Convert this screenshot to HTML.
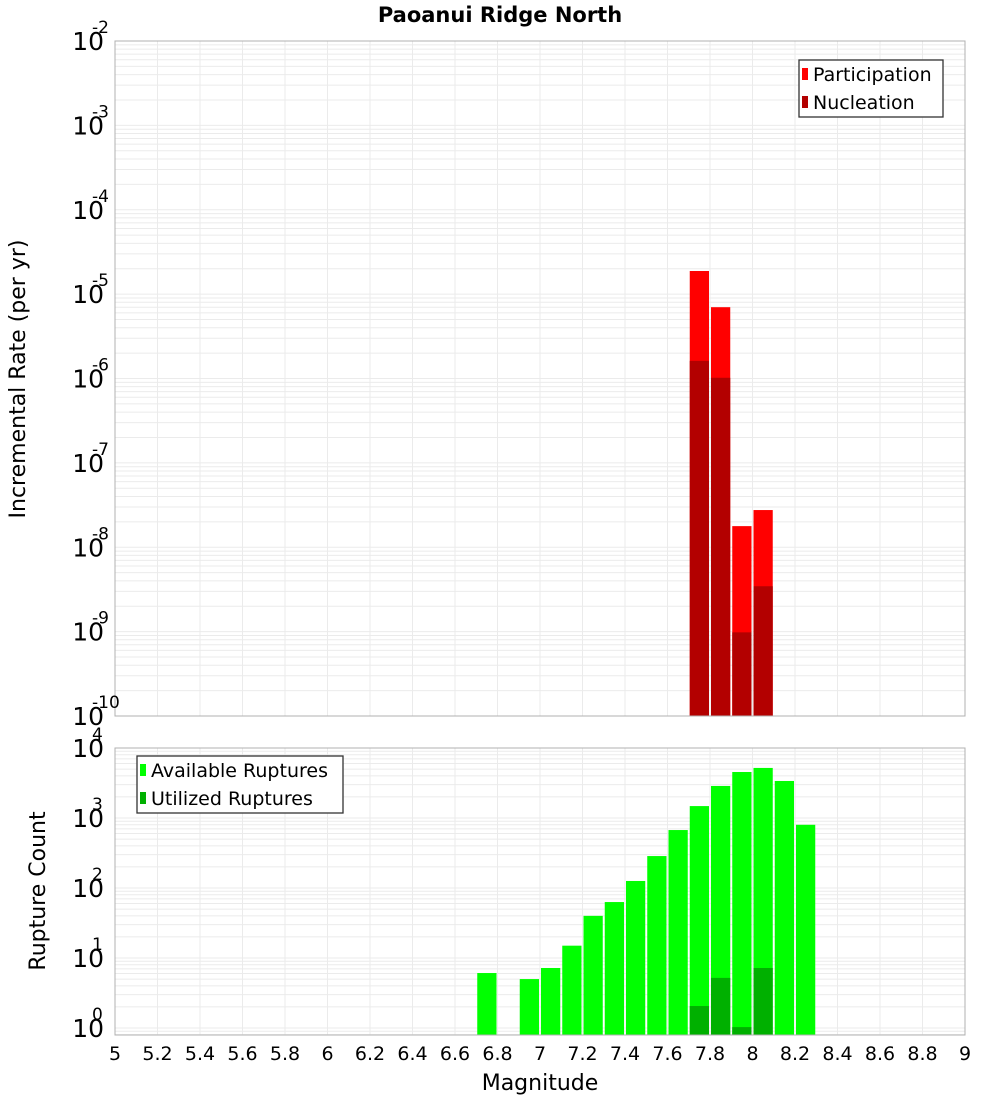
<!DOCTYPE html>
<html><head><meta charset="utf-8"><style>
body{margin:0;background:#fff;}
svg{display:block;font-family:"DejaVu Sans","Liberation Sans",sans-serif;}
</style></head><body>
<svg id="chart" width="1000" height="1100" xmlns="http://www.w3.org/2000/svg">
<rect width="1000" height="1100" fill="#fff"/>
<text x="500" y="22" text-anchor="middle" font-size="21" font-weight="bold">Paoanui Ridge North</text>
<g id="top"></g><g id="bot"></g>
<text transform="translate(25,379) rotate(-90)" text-anchor="middle" font-size="22">Incremental Rate (per yr)</text>
<text transform="translate(45,891) rotate(-90)" text-anchor="middle" font-size="22">Rupture Count</text>
<text x="540" y="1090" text-anchor="middle" font-size="22">Magnitude</text>
</svg>
<script>
const xTicks=[5,5.2,5.4,5.6,5.8,6,6.2,6.4,6.6,6.8,7,7.2,7.4,7.6,7.8,8,8.2,8.4,8.6,8.8,9];
const rateMags=[7.7,7.8,7.9,8.0];
const participation=[1.88e-5,7.0e-6,1.78e-8,2.76e-8];
const nucleation=[1.62e-6,1.02e-6,9.8e-10,3.45e-9];
const countMags=[6.7,6.9,7.0,7.1,7.2,7.3,7.4,7.5,7.6,7.7,7.8,7.9,8.0,8.1,8.2];
const available=[6.1,5.0,7.2,15,40,63,126,286,673,1480,2870,4540,5190,3380,800];
const utilMags=[7.7,7.8,7.9,8.0];
const utilized=[2.06,5.2,1.03,7.2];
const topExps=[-2,-3,-4,-5,-6,-7,-8,-9,-10];
const botExps=[4,3,2,1,0];

const NS="http://www.w3.org/2000/svg";
const X0=115,X1=965;
const xs=m=>X0+(m-5)/4*(X1-X0);
function mk(p,t,a){const e=document.createElementNS(NS,t);for(const k in a)e.setAttribute(k,a[k]);p.appendChild(e);return e;}
function panel(g,y0,y1,lmax,lmin,name){
  const ys=v=>y0+(lmax-Math.log10(v))/(lmax-lmin)*(y1-y0);
  for(let d=Math.floor(lmin);d<Math.ceil(lmax);d++){for(let k=1;k<10;k++){const y=ys(k*Math.pow(10,d));if(y<y0-0.5||y>y1+0.5)continue;
    const l=mk(g,'line',{x1:X0,x2:X1,y1:y,y2:y,stroke:'#ebebeb','stroke-width':1});
    
    }}
  xTicks.forEach(t=>{const l=mk(g,'line',{x1:xs(t),x2:xs(t),y1:y0,y2:y1,stroke:'#ebebeb','stroke-width':1});
    
    });
  return ys;
}
function border(g,y0,y1,name){const r=mk(g,'rect',{x:X0,y:y0,width:X1-X0,height:y1-y0,fill:'none',stroke:'#b0b0b0','stroke-width':1});
  
  }
function bar(g,m,v,ys,yb,fill,name){const x=xs(m)+1,w=xs(m+0.1)-xs(m)-2,y=Math.max(ys(v),0);
  const r=mk(g,'rect',{x:x,y:y,width:w,height:yb-y,fill:fill});
  
  }
function ylabel(g,y,e,name){const t=mk(g,'text',{x:104,y:y+9,'text-anchor':'end','font-size':25});
  t.textContent='10';
  
  
  const s=mk(g,'text',{x:104,y:y-8,'text-anchor':'start','font-size':17});s.textContent=String(e);
  
  
  s.setAttribute('transform','translate(-12,0)');}
function legend(g,x,y,w,items,name){const b=mk(g,'rect',{x:x,y:y,width:w,height:57,fill:'#fff',stroke:'#333','stroke-width':1.3});
  
  
  items.forEach((it,i)=>{const yy=y+14+i*28;
    const s=mk(g,'rect',{x:x+3,y:yy-6,width:6,height:12,fill:it[1]});
    
    
    const t=mk(g,'text',{x:x+14,y:yy+7,'font-size':19});t.textContent=it[0];
    
    });}

// top panel
const gt=document.getElementById('top');
const T0=41,T1=716;
const yt=panel(gt,T0,T1,-2,-10,'rate');
rateMags.forEach((m,i)=>bar(gt,m,participation[i],yt,T1,'#ff0000','participation-bar'));
rateMags.forEach((m,i)=>bar(gt,m,nucleation[i],yt,T1,'#b30000','nucleation-bar'));
border(gt,T0,T1,'rate');
topExps.forEach(e=>ylabel(gt,yt(Math.pow(10,e)),e,'rate-y-tick'));
legend(gt,799,60,144,[['Participation','#ff0000'],['Nucleation','#b30000']],'rate-legend');

// bottom panel
const gb=document.getElementById('bot');
const B0=748,B1=1035;
const yb=panel(gb,B0,B1,4,-0.1,'count');
countMags.forEach((m,i)=>bar(gb,m,available[i],yb,B1,'#00ff00','available-bar'));
utilMags.forEach((m,i)=>bar(gb,m,utilized[i],yb,B1,'#00b000','utilized-bar'));
border(gb,B0,B1,'count');
botExps.forEach(e=>ylabel(gb,yb(Math.pow(10,e)),e,'count-y-tick'));
legend(gb,137,756,206,[['Available Ruptures','#00ff00'],['Utilized Ruptures','#00b000']],'count-legend');
xTicks.forEach(t=>{const l=mk(gb,'text',{x:xs(t),y:1060,'text-anchor':'middle','font-size':19});
  l.textContent=String(t);
  
  });
</script>
</body></html>
